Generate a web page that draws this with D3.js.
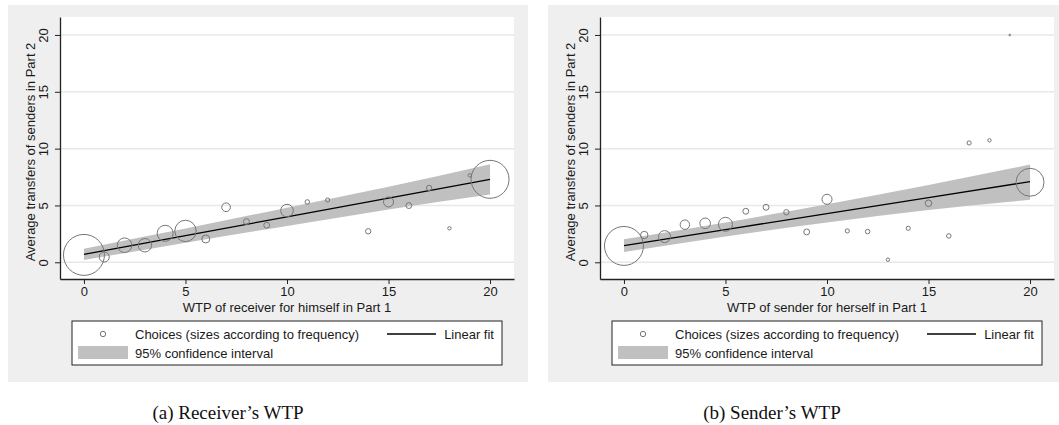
<!DOCTYPE html>
<html>
<head>
<meta charset="utf-8">
<script src="https://cdn.jsdelivr.net/npm/d3@7/dist/d3.min.js"></script>
<style>
  html, body { margin: 0; padding: 0; background: #ffffff; }
  svg { display: block; }
  text { font-family: "Liberation Sans", Arial, sans-serif; fill: #1a1a1a; }
  .caption { font-family: "Liberation Serif", "Times New Roman", serif; fill: #111; }
</style>
</head>
<body>
<svg id="chart" width="1059" height="425"></svg>
<script>
// ---------------- data ----------------
// Panel (a): receiver's WTP
const recvWTP      = [0, 1, 2, 3, 4, 5, 6, 7, 8, 9, 10, 11, 12, 14, 15, 16, 17, 18, 19, 20];
const recvTransfer = [0.65, 0.47, 1.5, 1.5, 2.55, 2.76, 2.05, 4.84, 3.58, 3.26, 4.55, 5.31, 5.48, 2.73, 5.31, 4.99, 6.54, 2.99, 7.65, 7.3];
const recvFreq     = [582, 35, 74, 62, 89, 158, 22, 26, 12, 12, 55, 7, 6, 10, 35, 12, 10, 4, 4, 500];
// Linear fit and 95% CI (evaluated at these WTP values)
const fitX         = [0, 5, 10, 15, 20];
const recvFit      = [0.7, 2.35, 4.0, 5.65, 7.3];
const recvUpper    = [1.2, 2.97, 4.8, 6.65, 8.63];
const recvLower    = [0.2, 1.73, 3.2, 4.65, 5.97];

// Panel (b): sender's WTP
const sendWTP      = [0, 1, 2, 3, 4, 5, 6, 7, 8, 9, 10, 11, 12, 13, 14, 15, 16, 17, 18, 19, 20];
const sendTransfer = [1.44, 2.4, 2.26, 3.31, 3.43, 3.34, 4.49, 4.84, 4.4, 2.67, 5.54, 2.76, 2.7, 0.23, 2.99, 5.19, 2.32, 10.5, 10.73, 20.0, 7.04];
const sendFreq     = [526, 19, 50, 31, 39, 68, 12, 12, 10, 12, 35, 6, 7, 4, 6, 15, 7, 6, 4, 1, 271];
const sendFit      = [1.47, 2.88, 4.29, 5.69, 7.1];
const sendUpper    = [2.02, 3.5, 5.1, 6.8, 8.6];
const sendLower    = [0.9, 2.28, 3.5, 4.6, 5.5];

// Axis ticks & labels
const majorTicks = [0, 5, 10, 15, 20];
const minorTicks = [0, 1, 2, 3, 4, 5, 6, 7, 8, 9, 10, 11, 12, 13, 14, 15, 16, 17, 18, 19, 20];
const yTitle = "Average transfers of senders in Part 2";
const xTitles = ["WTP of receiver for himself in Part 1", "WTP of sender for herself in Part 1"];
const legendLabels = ["Choices (sizes according to frequency)", "Linear fit", "95% confidence interval"];
const captions = ["(a) Receiver\u2019s WTP", "(b) Sender\u2019s WTP"];

// ---------------- drawing ----------------
const svg = d3.select("#chart");

const panels = [
  { dx: 0,   capX: 228, wtp: recvWTP, tr: recvTransfer, freq: recvFreq, fit: recvFit, up: recvUpper, lo: recvLower, xTitle: xTitles[0], caption: captions[0] },
  { dx: 540, capX: 232, wtp: sendWTP, tr: sendTransfer, freq: sendFreq, fit: sendFit, up: sendUpper, lo: sendLower, xTitle: xTitles[1], caption: captions[1] }
];

const plotL = 60, plotR = 514, plotT = 17, plotB = 279;
const x = d3.scaleLinear().domain([-1.18, 21.18]).range([plotL, plotR]);
const y = d3.scaleLinear().domain([-1.47, 21.58]).range([plotB, plotT]);
const r = d3.scaleSqrt().domain([0, 600]).range([0, 20.8]);

panels.forEach(p => {
  const g = svg.append("g").attr("transform", `translate(${p.dx},0)`);

  // panel background
  g.append("rect").attr("x", 8).attr("y", 5).attr("width", 520).attr("height", 377).attr("fill", "#efefef");
  // plot region
  g.append("rect").attr("x", plotL).attr("y", plotT).attr("width", plotR - plotL).attr("height", plotB - plotT).attr("fill", "#ffffff");

  // gridlines
  g.append("g").selectAll("line").data(majorTicks).join("line")
    .attr("x1", plotL).attr("x2", plotR)
    .attr("y1", d => y(d)).attr("y2", d => y(d))
    .attr("stroke", "#e8e8e8").attr("stroke-width", 1.5);

  // CI band
  const band = fitX.map((v, i) => ({ x: v, lo: p.lo[i], hi: p.up[i] }));
  g.append("path").datum(band)
    .attr("d", d3.area().x(d => x(d.x)).y0(d => y(d.lo)).y1(d => y(d.hi)).curve(d3.curveMonotoneX))
    .attr("fill", "#c0c0c0");

  // fit line
  const fitPts = fitX.map((v, i) => ({ x: v, y: p.fit[i] }));
  g.append("path").datum(fitPts)
    .attr("d", d3.line().x(d => x(d.x)).y(d => y(d.y)))
    .attr("fill", "none").attr("stroke", "#000").attr("stroke-width", 1.3);

  // circles
  const pts = p.wtp.map((v, i) => ({ x: v, y: p.tr[i], n: p.freq[i] }));
  g.append("g").selectAll("circle").data(pts).join("circle")
    .attr("cx", d => x(d.x)).attr("cy", d => y(d.y)).attr("r", d => r(d.n))
    .attr("fill", "none").attr("stroke", "#767676").attr("stroke-width", 1);

  // x axis
  const xg = g.append("g").attr("transform", `translate(0,${plotB})`);
  xg.call(d3.axisBottom(x).tickValues(minorTicks).tickSize(5).tickSizeOuter(0).tickFormat(""));
  xg.call(d3.axisBottom(x).tickValues(majorTicks).tickSize(5).tickSizeOuter(0).tickFormat(d3.format("d")));
  xg.selectAll("path.domain").attr("stroke", "#222").attr("stroke-width", 1.3);
  xg.selectAll(".tick line").attr("stroke", "#222");
  xg.selectAll("text").attr("font-size", 13).attr("fill", "#1a1a1a")
    .attr("font-family", "Liberation Sans, Arial, sans-serif").attr("y", 8).attr("dy", "0.71em");

  // y axis
  const yg = g.append("g").attr("transform", `translate(${plotL},0)`);
  yg.call(d3.axisLeft(y).tickValues(minorTicks).tickSize(5).tickSizeOuter(0).tickFormat(""));
  yg.call(d3.axisLeft(y).tickValues(majorTicks).tickSize(5).tickSizeOuter(0).tickFormat(d3.format("d")));
  yg.selectAll("path.domain").attr("stroke", "#222").attr("stroke-width", 1.3);
  yg.selectAll(".tick line").attr("stroke", "#222");
  yg.selectAll("text").attr("font-size", 13).attr("fill", "#1a1a1a")
    .attr("font-family", "Liberation Sans, Arial, sans-serif")
    .attr("transform", "rotate(-90)").attr("x", 0).attr("y", -12.5).attr("dy", 0)
    .attr("text-anchor", "middle");

  // axis titles
  g.append("text").attr("transform", `translate(30,${(plotT + plotB) / 2 + 4}) rotate(-90)`)
    .attr("text-anchor", "middle").attr("dy", "0.35em").attr("font-size", 13).text(yTitle);
  g.append("text").attr("x", (plotL + plotR) / 2).attr("y", 307).attr("dy", "0.35em")
    .attr("text-anchor", "middle").attr("font-size", 13).text(p.xTitle);

  // legend
  const lg = g.append("g");
  lg.append("rect").attr("x", 72).attr("y", 321).attr("width", 430).attr("height", 44)
    .attr("fill", "#fff").attr("stroke", "#222").attr("stroke-width", 1);
  lg.append("circle").attr("cx", 103).attr("cy", 334).attr("r", r(10))
    .attr("fill", "none").attr("stroke", "#767676").attr("stroke-width", 1);
  lg.append("text").attr("x", 135).attr("y", 334).attr("dy", "0.35em").attr("font-size", 13).text(legendLabels[0]);
  lg.append("line").attr("x1", 387).attr("x2", 436).attr("y1", 334).attr("y2", 334)
    .attr("stroke", "#000").attr("stroke-width", 1.3);
  lg.append("text").attr("x", 494).attr("y", 334).attr("dy", "0.35em").attr("text-anchor", "end")
    .attr("font-size", 13).text(legendLabels[1]);
  lg.append("rect").attr("x", 78).attr("y", 346).attr("width", 50).attr("height", 13).attr("fill", "#c0c0c0");
  lg.append("text").attr("x", 135).attr("y", 353).attr("dy", "0.35em").attr("font-size", 13).text(legendLabels[2]);

  // caption
  g.append("text").attr("class", "caption").attr("x", p.capX).attr("y", 419)
    .attr("text-anchor", "middle").attr("font-size", 19).text(p.caption);
});
</script>
</body>
</html>
